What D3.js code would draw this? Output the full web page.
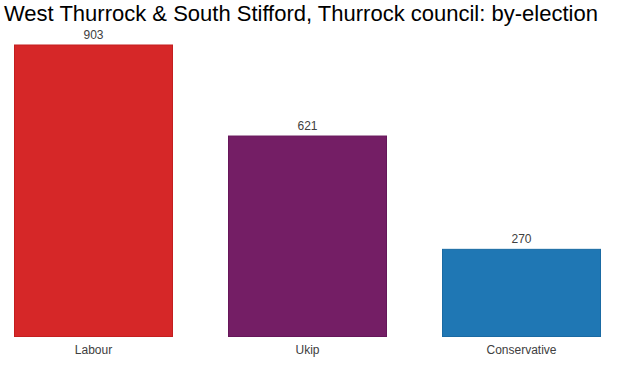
<!DOCTYPE html>
<html>
<head>
<meta charset="utf-8">
<script src="https://cdn.jsdelivr.net/npm/d3@7"></script>
<style>
  body { margin: 0; background: #fff; }
  svg { display: block; font-family: "Liberation Sans", Arial, sans-serif; }
</style>
</head>
<body>
<svg width="617" height="366"></svg>
<script>
// party results
const parties = ['Labour', 'Ukip', 'Conservative']
const votes = [903, 621, 270]
const colours = ['#d62728', '#741e65', '#1f77b4']
const strokes = ['#c41e1f', '#66165a', '#1a6aa3']

document.addEventListener('DOMContentLoaded', () => {
    const svg = d3.select('svg')

    const data = parties.map((p, i) => ({party: p, votes: votes[i], fill: colours[i], stroke: strokes[i]}))

    const xScale = d3.scaleBand()
        .domain(parties)
        .range([14 - 0.06 * 214, 14 - 0.06 * 214 + 214 * (3 - 0.257 + 0.12)])
        .paddingInner(0.257)
        .paddingOuter(0.06)
    const yScale = d3.scaleLinear()
        .domain([0, 903])
        .range([336.5, 45])

    svg.append('text')
        .attr('x', 4)
        .attr('y', 21)
        .attr('font-size', 22)
        .attr('fill', '#000')
        .text('West Thurrock & South Stifford, Thurrock council: by-election')

    const g = svg.append('g')
    g.selectAll('rect').data(data)
        .enter().append('rect')
            .attr('x', d => xScale(d.party) + 0.5)
            .attr('y', d => yScale(d.votes))
            .attr('width', xScale.bandwidth() - 1)
            .attr('height', d => yScale(0) - yScale(d.votes))
            .attr('fill', d => d.fill)
            .attr('stroke', d => d.stroke)
            .attr('stroke-width', 1)

    g.selectAll('.val').data(data)
        .enter().append('text')
            .attr('class', 'val')
            .attr('x', d => xScale(d.party) + xScale.bandwidth() / 2)
            .attr('y', d => yScale(d.votes) - 6)
            .attr('text-anchor', 'middle')
            .attr('font-size', 12)
            .attr('fill', '#404040')
            .text(d => d.votes)

    const axis = svg.append('g')
        .attr('transform', `translate(0,${yScale(0)})`)
        .call(d3.axisBottom(xScale).tickSize(0).tickPadding(9))
    axis.select('.domain').remove()
    axis.selectAll('text')
        .attr('font-size', 12)
        .attr('font-family', '"Liberation Sans", Arial, sans-serif')
        .attr('fill', '#404040')
})
</script>
</body>
</html>
